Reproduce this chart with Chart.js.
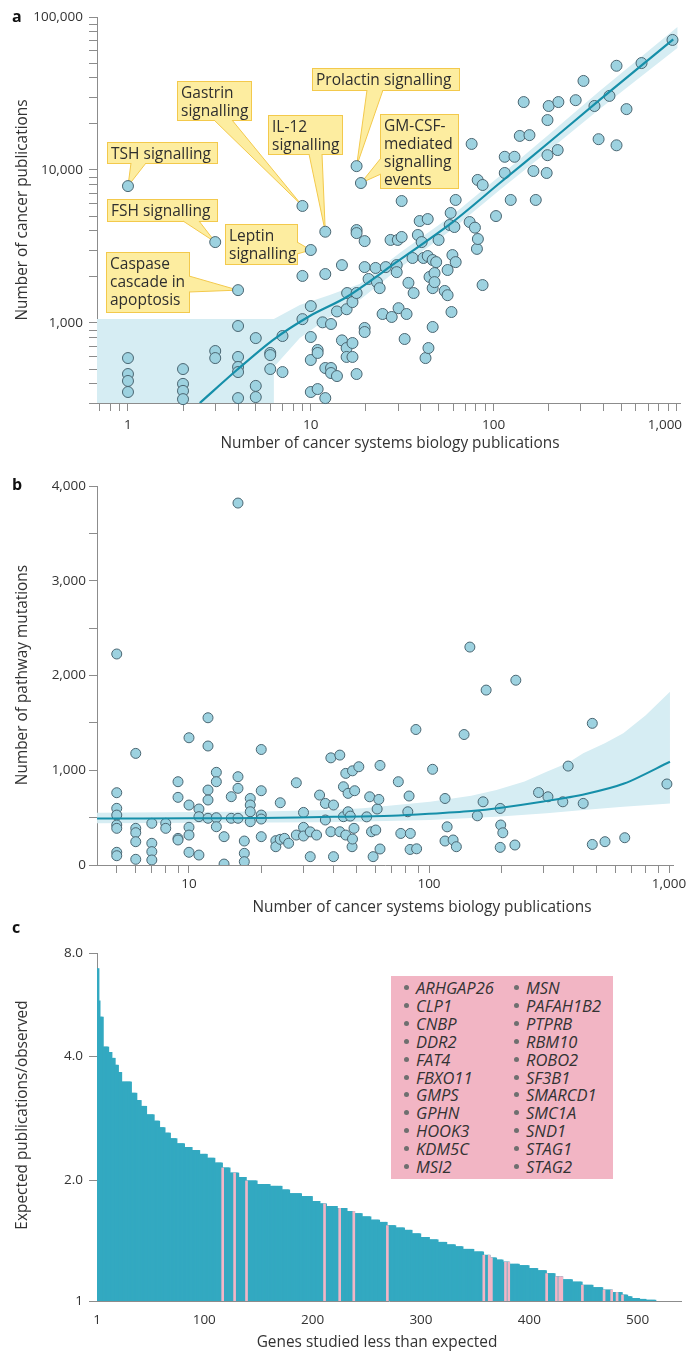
<!DOCTYPE html>
<html>
<head>
<meta charset="utf-8">
<title>Cancer pathway publications</title>
<script src="https://cdn.jsdelivr.net/npm/chart.js@4.4.1/dist/chart.umd.min.js"></script>
<style>
  html, body { margin: 0; padding: 0; background: #fff; }
  #page { position: relative; width: 687px; height: 1355px; overflow: hidden; font-family: "Open Sans", sans-serif; color: #333; }
  #page canvas { position: absolute; left: 0; }
  .letter { position: absolute; font-size: 16px; font-weight: 700; color: #111; line-height: 16px; }
  .axis-title { position: absolute; font-size: 15.4px; line-height: 18px; white-space: nowrap; transform: translate(-50%, -50%); }
  .axis-title.vert { transform: translate(-50%, -50%) rotate(-90deg); }
  .callout { position: absolute; font-size: 15.5px; line-height: 18px; padding: 2px 4px; white-space: nowrap; color: #2e2e2e; }
  #legendC { position: absolute; left: 391px; top: 976px; width: 222px; height: 203px; background: #f2b5c4; }
  .gene { position: absolute; font-size: 16.5px; line-height: 18px; white-space: nowrap; color: #333; }
  .gene .dot { display: inline-block; width: 5px; height: 5px; border-radius: 50%; background: #6f6f6f; margin: 0 7px 0 0; vertical-align: 4px; }
</style>
</head>
<body>
<div id="page">
  <canvas id="chartA" width="687" height="460" style="top:0"></canvas>
  <canvas id="chartB" width="687" height="460" style="top:460px"></canvas>
  <canvas id="chartC" width="687" height="435" style="top:920px"></canvas>

  <div class="letter" style="left:12px; top:8px">a</div>
  <div class="letter" style="left:12px; top:476px">b</div>
  <div class="letter" style="left:12px; top:919px">c</div>

  <div class="axis-title vert" style="left:22px; top:210px">Number of cancer publications</div>
  <div class="axis-title" style="left:390px; top:443px">Number of cancer systems biology publications</div>
  <div class="axis-title vert" style="left:22px; top:675px">Number of pathway mutations</div>
  <div class="axis-title" style="left:422px; top:907px">Number of cancer systems biology publications</div>
  <div class="axis-title vert" style="left:22px; top:1115px">Expected publications/observed</div>
  <div class="axis-title" style="left:377px; top:1342px">Genes studied less than expected</div>

  <div id="legendC"></div>
</div>

<script>
// ---------- panel a: pathways, systems biology pubs vs cancer pubs ----------
const sysBioA = [1, 1, 1, 1, 1, 2, 2, 2, 2, 3, 3, 3, 4, 4, 4, 4, 4, 4, 5, 5, 5, 6, 6, 6, 7, 7,
  9, 9, 9, 10, 10, 10, 10, 10, 10.9, 10.9, 10.9, 11.6, 12, 12, 12, 12, 12.9, 12.9, 12.9, 13.9, 13.9,
  14.8, 14.8, 15.7, 15.7, 15.7, 15.8, 16.9, 16.9, 16.9, 17.8, 17.8, 17.8, 17.8, 17.8, 18.8,
  19.7, 19.7, 19.7, 19.7, 20.7, 22.6, 23, 23.8, 24.7, 25.7, 27.3, 27.7, 29.5, 29.5, 29.9, 30.2,
  31.4, 31.4, 32.6, 33.4, 34.2, 36, 36.5, 38.5, 39.4, 40.4, 41.3, 42.4, 43.6, 43.6, 44, 44.6,
  46.4, 46.4, 46.4, 47.5, 47.5, 48.5, 50, 54, 56, 56, 57.5, 58.2, 58.8, 59.5, 61, 62, 62,
  73.9, 75.8, 79, 81, 82, 81.8, 87, 87.1, 103, 115, 115, 124, 130, 139, 146, 157, 165, 170,
  195, 197, 197, 200, 224, 226, 281, 310, 356, 375, 430, 470, 470, 533, 644, 951];
const cancerPubsA = [7850, 590, 464, 418, 354, 500, 400, 360, 318, 3380, 656, 590, 1640, 956, 600, 516, 478, 323, 797, 388, 328, 637, 617, 500, 822, 478,
  5820, 2030, 1060, 3000, 1290, 810, 573, 354, 666, 637, 370, 1010, 3950, 2090, 508, 323, 985, 508, 471, 1190, 450,
  2390, 770, 1230, 686, 600, 1570, 1370, 740, 600, 10600, 4050, 3870, 1570, 464, 8220,
  3430, 2320, 928, 873, 1940, 2290, 1850, 1690, 1145, 2320, 3490, 1095, 2390, 2150, 3490, 1250,
  6270, 3650, 786, 1145, 1830, 2660, 1570, 3760, 4640, 3380, 2660, 590, 4780, 2740, 686, 2000,
  2580, 1690, 942, 2120, 1850, 2500, 3490, 1620, 2220, 1520, 4370, 5240, 1180, 2780, 4240, 6370, 2500,
  4570, 14800, 4200, 3050, 3540, 8610, 1770, 7980, 5000, 12200, 9560, 6370, 12200, 16700, 27800, 16900, 9850, 6370,
  9560, 21200, 12500, 26200, 13500, 27800, 28600, 38200, 26200, 15900, 30500, 48000, 14500, 25000, 50000, 70800];

const fitXA = [2.47, 3.94, 6.2, 9.87, 15.7, 29.5, 59.7, 108, 202, 380, 960];
const fitYA = [300, 493, 774, 1111, 1479, 2506, 4572, 8220, 15240, 28700, 71500];

// confidence band outline: upper edge left to right, then lower edge back
const bandXA = [0.677, 6.28, 8.71, 12.7, 18.5, 30.6, 59.7, 108, 202, 380, 1012,
  1012, 380, 202, 108, 59.7, 30.6, 18.5, 12.7, 8.71, 6.28, 6.28, 0.677];
const bandYA = [1062, 1062, 1311, 1524, 1799, 2867, 5078, 9140, 17180, 32800, 86100,
  62700, 25060, 13520, 7400, 4110, 2287, 1413, 1094, 798, 516, 300, 300];

const calloutTexts = ['TSH signalling', 'FSH signalling', 'Gastrin\nsignalling', 'IL-12\nsignalling',
  'Prolactin signalling', 'GM-CSF-\nmediated\nsignalling\nevents', 'Leptin\nsignalling', 'Caspase\ncascade in\napoptosis'];
const calloutX = [1, 3, 9, 12, 17.8, 18.8, 10, 4];
const calloutY = [7850, 3380, 5820, 3950, 10600, 8220, 3000, 1640];

const xTicksA = [0.7, 0.8, 0.9, 1, 2, 3, 4, 5, 6, 7, 8, 9, 10, 20, 30, 40, 50, 60, 70, 80, 90,
  100, 200, 300, 400, 500, 600, 700, 800, 900, 1000];
const xMajorA = [1, 10, 100, 1000];
const xLabelsA = ['1', '10', '100', '1,000\u2007\u2007\u2007'];   // last one kept inside the frame
const yTicksA = [300, 400, 500, 600, 700, 800, 900, 1000, 2000, 3000, 4000, 5000, 6000, 7000, 8000, 9000,
  10000, 20000, 30000, 40000, 50000, 60000, 70000, 80000, 90000, 100000];
const yMajorA = [1000, 10000, 100000];
const yLabelsA = ['1,000', '10,000', '100,000'];

// ---------- panel b: systems biology pubs vs pathway mutations ----------
const sysBioB = [5, 5, 5, 5, 5, 5, 5, 5, 6, 6, 6, 6, 6, 7, 7, 7, 7, 8, 8, 9, 9, 9, 9,
  10, 10, 10, 10, 10, 11, 11, 11, 12, 12, 12, 12, 12, 13, 13, 13, 13, 14, 14, 15, 15,
  16, 16, 16, 16, 17, 17, 17, 18, 18, 18, 18, 20, 20, 20, 20, 20, 23, 23, 24, 24, 25, 26, 28, 28,
  30, 30, 30, 32, 32, 34, 35, 37, 37, 39, 39, 40, 40, 42.5, 42.5, 44, 44, 45, 45, 46, 46,
  47, 47.8, 48, 48, 48.7, 49, 51, 55, 56.6, 57.6, 58.5, 60, 60.8, 61.8, 62.5, 62.5,
  74.5, 76.3, 81.6, 82.6, 83.4, 83.6, 88.2, 88.8, 103.5, 116.6, 116.6, 119, 126, 130, 140, 148,
  159, 168, 173, 198, 198, 199, 203, 228, 230, 286, 313, 361, 380, 439, 479, 479, 541, 654, 980];
const mutationsB = [2227, 763, 598, 527, 422, 387, 134, 98, 1178, 387, 341, 246, 60, 440, 229, 141, 53, 440, 387, 879, 714, 281, 264,
  1343, 633, 398, 316, 134, 591, 510, 105, 1554, 1256, 791, 686, 493, 978, 879, 499, 404, 299, 10, 721, 493,
  3820, 932, 809, 493, 253, 123, 35, 702, 633, 562, 457, 1219, 784, 527, 485, 299, 257, 193, 657, 271, 281, 229, 868, 316,
  555, 397, 306, 350, 88, 316, 738, 650, 475, 1131, 351, 633, 88, 1160, 351, 826, 510, 967, 316, 756, 562,
  516, 193, 994, 274, 387, 784, 1037, 508, 720, 351, 88, 369, 591, 692, 1051, 169,
  879, 333, 562, 728, 164, 333, 1430, 171, 1010, 702, 253, 403, 264, 193, 1377, 2300,
  519, 667, 1846, 597, 186, 422, 340, 211, 1950, 765, 720, 667, 1044, 650, 1495, 217, 246, 288, 855];

const fitXB = [4.14, 10, 20, 40, 70, 100, 150, 200, 300, 450, 650, 1009];
const fitYB = [490, 493, 497, 508, 520, 540, 570, 605, 670, 750, 860, 1090];

const bandXB = [4.14, 20, 38.7, 53, 101, 150, 191, 250, 309, 380, 439, 540, 645, 800, 1009,
  1009, 645, 439, 309, 191, 101, 38.7, 4.14];
const bandYB = [551, 565, 580, 600, 667, 730, 791, 880, 984, 1080, 1180, 1285, 1390, 1580, 1828,
  650, 614, 580, 545, 509, 475, 452, 440];

const xTicksB = [5, 6, 7, 8, 9, 10, 20, 30, 40, 50, 60, 70, 80, 90, 100, 200, 300, 400, 500, 600, 700, 800, 900, 1000];
const xMajorB = [10, 100, 1000];
const xLabelsB = ['10', '100', '1,000'];
const yTicksB = [0, 500, 1000, 1500, 2000, 2500, 3000, 3500, 4000];
const yMajorB = [0, 1000, 2000, 3000, 4000];
const yLabelsB = ['0', '1,000', '2,000', '3,000', '4,000'];

// ---------- panel c: expected/observed ratio per gene (read as plateaus) ----------
const ratioStepsC = [7.2, 5.8, 5.2, 4.25, 4.1, 3.95, 3.8, 3.65, 3.46, 3.25, 3.12, 3.02, 2.88, 2.78, 2.68, 2.6,
  2.52, 2.45, 2.4, 2.36, 2.31, 2.26, 2.2, 2.14, 2.08, 2.03, 1.99, 1.95, 1.93, 1.89, 1.85, 1.82, 1.77, 1.745,
  1.72, 1.7, 1.67, 1.65, 1.62, 1.59, 1.57, 1.54, 1.52, 1.5, 1.47, 1.44, 1.42, 1.4, 1.38, 1.365, 1.345, 1.325,
  1.3, 1.28, 1.265, 1.25, 1.235, 1.225, 1.205, 1.19, 1.17, 1.15, 1.13, 1.115, 1.095, 1.08, 1.065, 1.05,
  1.035, 1.025, 1.015, 1.01, 1.005];
const geneCountsC = [2, 1, 3, 5, 3, 3, 3, 3, 9, 5, 4, 5, 7, 5, 5, 5, 6, 7, 7, 7, 7, 7, 7, 7, 8, 7, 10, 12, 11, 7,
  11, 10, 7, 6, 10, 9, 7, 7, 8, 8, 7, 8, 8, 7, 8, 8, 8, 8, 8, 7, 10, 9, 6, 6, 6, 6, 9, 9, 8, 8, 8, 7, 9, 9, 10,
  9, 9, 9, 5, 4, 7, 6, 9];
const highlightRanksC = [117, 128, 139, 211, 225, 238, 269, 358, 363, 364, 365, 378, 381, 416, 425, 428, 430, 449, 469, 476, 481, 486];
const highlightGenes = ['ARHGAP26', 'CLP1', 'CNBP', 'DDR2', 'FAT4', 'FBXO11', 'GMPS', 'GPHN', 'HOOK3', 'KDM5C', 'MSI2',
  'MSN', 'PAFAH1B2', 'PTPRB', 'RBM10', 'ROBO2', 'SF3B1', 'SMARCD1', 'SMC1A', 'SND1', 'STAG1', 'STAG2'];

const xTicksC = [1, 100, 200, 300, 400, 500];
const xLabelsC = ['1', '100', '200', '300', '400', '500'];
const yTicksC = [1, 2, 4, 8];
const yLabelsC = ['1', '2.0', '4.0', '8.0'];

// ---------- styling ----------
Chart.defaults.font.family = '"Open Sans", sans-serif';
Chart.defaults.color = '#333';

const AXIS_GREY = '#8c8c8c';
const DOT_FILL = '#9dd2e0';
const DOT_EDGE = '#4a6672';
const FIT_TEAL = '#168fa9';
const BAND_BLUE = '#d6edf3';
const BAR_TEAL = '#33a9c1';
const BAR_PINK = '#f2b5c6';
const NOTE_FILL = '#fdeda0';
const NOTE_EDGE = '#f3c94c';
const TICK_FONT = { size: 13.5 };

const zip = (xs, ys) => xs.map((x, i) => ({ x, y: ys[i] }));

// the y axis of panel c is log-like but each doubling gets its own height, as in the figure
const knotFracC = [0, 121 / 348, 245 / 348, 1];
const LogScale = Chart.LogarithmicScale || Chart.registry.getScale('logarithmic');
class KnotLogScale extends LogScale {
  getPixelForValue(value) {
    const v = (value === undefined || value === null || value <= 0) ? this.min : value;
    let i = 0;
    while (i < yTicksC.length - 2 && v > yTicksC[i + 1]) i++;
    const a = Math.log(yTicksC[i]), b = Math.log(yTicksC[i + 1]);
    const t = (Math.log(v) - a) / (b - a);
    return this.getPixelForDecimal(knotFracC[i] + t * (knotFracC[i + 1] - knotFracC[i]));
  }
}
KnotLogScale.id = 'knotLog';
KnotLogScale.defaults = LogScale.defaults;
Chart.register(KnotLogScale);

function axis(type, min, max, tickVals, majors, labels, size, pad, tickLen) {
  return {
    type, min, max, bounds: 'data', offset: false,
    afterBuildTicks: (s) => { s.ticks = tickVals.map(v => ({ value: v })); },
    afterFit: (s) => {
      if (s.isHorizontal()) { s.height = size; s.paddingLeft = 0; s.paddingRight = 0; }
      else { s.width = size; s.paddingTop = 0; s.paddingBottom = 0; }
    },
    ticks: {
      autoSkip: false, maxRotation: 0, minRotation: 0, padding: pad, font: TICK_FONT, color: '#333',
      callback: (v) => { const i = majors.indexOf(v); return i < 0 ? '' : labels[i]; }
    },
    grid: { display: tickLen > 0, drawOnChartArea: false, tickLength: tickLen, color: AXIS_GREY, lineWidth: 1 },
    border: { display: true, color: AXIS_GREY, width: 1 }
  };
}

const baseOptions = (pad) => ({
  responsive: false, animation: false, events: [],
  layout: { padding: pad },
  plugins: { legend: { display: false }, tooltip: { enabled: false } }
});

// callout boxes of panel a: [left, top, width, height] and the two base corners of each pointer
const noteBoxes = [[107, 142, 111, 22], [107, 199, 111, 23], [177, 81, 75, 40], [268, 115, 75, 40],
  [312, 68, 148, 23], [380, 114, 79, 75], [225, 224, 73, 41], [106, 252, 84, 61]];
const noteBases = [[[131, 163], [146, 163]], [[183, 221], [199, 221]], [[214, 120], [232, 120]], [[309, 154], [322, 154]],
  [[367, 90], [383, 90]], [[381, 158], [381, 174]], [[297, 242], [297, 254]], [[189, 276], [189, 292]]];

const calloutPlugin = {
  id: 'callouts',
  beforeDatasetsDraw(chart) {
    const { ctx, scales: { x, y } } = chart;
    ctx.save();
    ctx.lineWidth = 1;
    noteBoxes.forEach((b, i) => {
      ctx.fillStyle = NOTE_FILL;
      ctx.strokeStyle = NOTE_EDGE;
      ctx.fillRect(b[0], b[1], b[2], b[3]);
      ctx.strokeRect(b[0] + 0.5, b[1] + 0.5, b[2] - 1, b[3] - 1);
      const tx = x.getPixelForValue(calloutX[i]);
      const ty = y.getPixelForValue(calloutY[i]);
      const [p, q] = noteBases[i];
      ctx.beginPath();
      ctx.moveTo(p[0], p[1]); ctx.lineTo(tx, ty); ctx.lineTo(q[0], q[1]); ctx.closePath();
      ctx.fill();
      ctx.beginPath();
      ctx.moveTo(p[0], p[1]); ctx.lineTo(tx, ty); ctx.lineTo(q[0], q[1]);
      ctx.stroke();
    });
    ctx.restore();
  }
};

// ---------- panel a ----------
new Chart(document.getElementById('chartA'), {
  type: 'scatter',
  data: {
    datasets: [
      { type: 'line', data: zip(fitXA, fitYA), borderColor: FIT_TEAL, borderWidth: 2.2, pointRadius: 0, tension: 0.3, fill: false, order: 0 },
      { type: 'scatter', data: zip(sysBioA, cancerPubsA), backgroundColor: DOT_FILL, borderColor: DOT_EDGE, borderWidth: 1, pointRadius: 5.5, order: 1, clip: false },
      { type: 'line', data: zip(bandXA, bandYA), backgroundColor: BAND_BLUE, borderColor: 'rgba(0,0,0,0)', borderWidth: 0, pointRadius: 0, tension: 0, fill: 'shape', order: 2 }
    ]
  },
  options: Object.assign(baseOptions({ left: 0, top: 17, right: 6, bottom: 0 }), {
    scales: {
      x: axis('logarithmic', 0.677, 1052, xTicksA, xMajorA, xLabelsA, 57, 6, 8),
      y: axis('logarithmic', 300, 100000, yTicksA, yMajorA, yLabelsA, 97, 6, 8)
    }
  }),
  plugins: [calloutPlugin]
});

calloutTexts.forEach((t, i) => {
  const d = document.createElement('div');
  d.className = 'callout';
  d.style.left = noteBoxes[i][0] + 'px';
  d.style.top = noteBoxes[i][1] + 'px';
  d.innerHTML = t.split('\n').join('<br>');
  document.getElementById('page').appendChild(d);
});

// ---------- panel b ----------
new Chart(document.getElementById('chartB'), {
  type: 'scatter',
  data: {
    datasets: [
      { type: 'line', data: zip(fitXB, fitYB), borderColor: FIT_TEAL, borderWidth: 2, pointRadius: 0, tension: 0.3, fill: false, order: 0 },
      { type: 'scatter', data: zip(sysBioB, mutationsB), backgroundColor: DOT_FILL, borderColor: DOT_EDGE, borderWidth: 1, pointRadius: 5, order: 1,
        clip: { left: false, top: false, right: false, bottom: 0 } },
      { type: 'line', data: zip(bandXB, bandYB), backgroundColor: BAND_BLUE, borderColor: 'rgba(0,0,0,0)', borderWidth: 0, pointRadius: 0, tension: 0, fill: 'shape', order: 2 }
    ]
  },
  options: Object.assign(baseOptions({ left: 0, top: 26, right: 14, bottom: 0 }), {
    scales: {
      x: axis('logarithmic', 4.137, 1039, xTicksB, xMajorB, xLabelsB, 55, 3, 8),
      y: axis('linear', 0, 4000, yTicksB, yMajorB, yLabelsB, 97, 3, 8)
    }
  })
});

// ---------- panel c ----------
const ratiosC = [];
ratioStepsC.forEach((v, i) => { for (let k = 0; k < geneCountsC[i]; k++) ratiosC.push(v); });
const genesC = ratiosC.map((v, i) => ({ x: i + 1, y: v }));
const pinkC = highlightRanksC.map(r => ({ x: r, y: ratiosC[r - 1] }));

new Chart(document.getElementById('chartC'), {
  type: 'bar',
  data: {
    datasets: [
      { data: pinkC, backgroundColor: BAR_PINK, barThickness: 2, grouped: false, order: 0 },
      { data: genesC, backgroundColor: BAR_TEAL, barThickness: 2, grouped: false, order: 1 }
    ]
  },
  options: Object.assign(baseOptions({ left: 0, top: 33, right: 6, bottom: 0 }), {
    scales: {
      x: axis('linear', 1, 540, xTicksC, xTicksC, xLabelsC, 54, 11, 0),
      y: axis('knotLog', 1, 8, yTicksC, yTicksC, yLabelsC, 97, 6, 8)
    }
  })
});

const legendC = document.getElementById('legendC');
highlightGenes.forEach((g, i) => {
  const d = document.createElement('div');
  d.className = 'gene';
  d.style.left = (13 + Math.floor(i / 11) * 110) + 'px';
  d.style.top = (3 + (i % 11) * 17.9) + 'px';
  d.innerHTML = '<span class="dot"></span><i>' + g + '</i>';
  legendC.appendChild(d);
});
</script>
</body>
</html>
